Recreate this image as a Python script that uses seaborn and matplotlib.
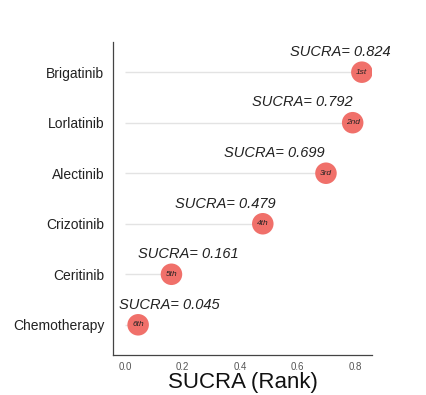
import matplotlib
matplotlib.use("Agg")
import matplotlib.pyplot as plt
import seaborn as sns
import pandas as pd

treatments = ["Brigatinib", "Lorlatinib", "Alectinib", "Crizotinib", "Ceritinib", "Chemotherapy"]
sucra = [0.824, 0.792, 0.699, 0.479, 0.161, 0.045]
ranks = ["1st", "2nd", "3rd", "4th", "5th", "6th"]
label_shift = [-0.075, -0.175, -0.18, -0.13, 0.06, 0.11]
xticks = [0.0, 0.2, 0.4, 0.6, 0.8]

df = pd.DataFrame({"treatment": treatments, "sucra": sucra, "rank": ranks})

sns.set_style("white")
plt.rcParams["font.family"] = ["Liberation Sans", "DejaVu Sans"]

fig = plt.figure(figsize=(4.27, 3.95), dpi=100)
ax = fig.add_axes([0.265, 0.101, 0.606, 0.793])

ypos = list(range(len(treatments)))
ax.hlines(ypos, 0, df["sucra"], color="#e3e3e3", linewidth=1.0, zorder=1)
sns.scatterplot(data=df, x="sucra", y="treatment", ax=ax, s=240, color="#f0706a",
                edgecolor="none", zorder=3, legend=False)

for i, (v, r, sh) in enumerate(zip(sucra, ranks, label_shift)):
    ax.text(v, i, r, ha="center", va="center", fontsize=6, style="italic",
            color="#222222", zorder=4)
    ax.text(v + sh, i - 0.4, f"SUCRA= {v:.3f}", ha="center", va="center",
            fontsize=10.5, style="italic", color="#222222", zorder=4, clip_on=False)

ax.set_xlim(-0.042, 0.859)
ax.set_ylim(5.6, -0.6)
ax.set_xticks(xticks)
ax.set_xticklabels([f"{t:.1f}" for t in xticks], fontsize=7, color="#555555")
ax.tick_params(axis="y", labelsize=10, length=3, width=0.6, color="#555555",
               labelcolor="#222222")
ax.tick_params(axis="x", length=3, width=0.6, pad=2, colors="#555555",
               labelcolor="#555555")
ax.set_ylabel("")
ax.set_xlabel("SUCRA (Rank)", fontsize=16, color="#111111", labelpad=0)
for s in ["top", "right"]:
    ax.spines[s].set_visible(False)
for s in ["left", "bottom"]:
    ax.spines[s].set_color("#444444")
    ax.spines[s].set_linewidth(0.9)

fig.savefig("out.png", dpi=100, facecolor="white")
